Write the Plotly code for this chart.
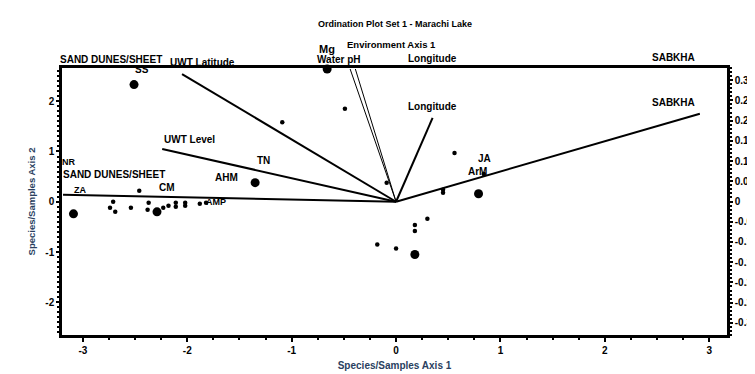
import plotly.graph_objects as go

# Environment vectors (end points, axis-1 / axis-2 scale)
vec_names = ["SABKHA", "Longitude", "UWT Latitude", "Mg", "Water pH", "UWT Level", "SAND DUNES/SHEET"]
vec_x = [2.91, 0.35, -2.05, -0.44, -0.39, -2.24, -3.19]
vec_y = [1.75, 1.67, 2.54, 2.64, 2.64, 1.05, 0.14]

# Sample / species scores
big_x = [-2.51, -0.66, -1.35, -3.09, 0.79, 0.18, -2.29]
big_y = [2.33, 2.64, 0.38, -0.24, 0.16, -1.05, -0.20]
small_x = [-1.09, -0.49, -0.09, -2.46, -2.71, -2.74, -2.69, -2.54, -2.37, -2.38, -2.23, -2.18,
           -2.11, -2.11, -2.02, -2.02, -1.88, -1.82, 0.56, 0.84, 0.45, 0.45, 0.30, 0.18, 0.18,
           -0.18, 0.00]
small_y = [1.58, 1.85, 0.38, 0.22, 0.00, -0.12, -0.20, -0.12, -0.02, -0.16, -0.12, -0.08,
           -0.02, -0.10, -0.02, -0.08, -0.04, -0.02, 0.97, 0.55, 0.24, 0.18, -0.34, -0.46, -0.58,
           -0.85, -0.93]

# Text labels
lab_text = ["SAND DUNES/SHEET", "UWT Latitude", "SS", "Mg", "Water pH", "Longitude", "SABKHA",
            "Longitude", "SABKHA", "UWT Level", "TN", "AHM", "CM", "NR", "SAND DUNES/SHEET", "ZA",
            "JA", "ArM", "AMP", "Environment Axis 1"]
lab_x = [-3.24, -2.18, -2.52, -0.66, -0.55, 0.35, 2.88, 0.35, 2.88, -2.24, -1.35, -1.75, -2.29,
         -3.22, -3.21, -3.10, 0.85, 0.78, -1.84, -0.04]
lab_y = [2.98, 2.92, 2.78, 3.20, 2.98, 3.00, 3.02, 2.05, 2.13, 1.39, 0.82, 0.48, 0.28, 0.80,
         0.54, 0.24, 1.01, 0.60, 0.00, 3.28]

x_ticks = [-3, -2, -1, 0, 1, 2, 3]
y_ticks = [-2, -1, 0, 1, 2]
y2_ticks = [0.3, 0.25, 0.2, 0.15, 0.1, 0.05, 0, -0.05, -0.1, -0.15, -0.2, -0.25, -0.3]

XR = [-3.2, 3.17]
YR = [-2.65, 2.66]
FONT = "Liberation Sans"

fig = go.Figure()
for nm, vx, vy in zip(vec_names, vec_x, vec_y):
    w = 1.0 if nm in ("Mg", "Water pH") else 2.0
    fig.add_trace(go.Scatter(x=[0, vx], y=[0, vy], mode="lines",
                             line=dict(color="black", width=w), showlegend=False, hoverinfo="skip"))
fig.add_trace(go.Scatter(x=big_x, y=big_y, mode="markers", cliponaxis=False,
                         marker=dict(color="black", size=9), showlegend=False))
fig.add_trace(go.Scatter(x=small_x, y=small_y, mode="markers", cliponaxis=False,
                         marker=dict(color="black", size=4.5), showlegend=False))
fig.add_trace(go.Scatter(x=[0], y=[0], yaxis="y2", mode="markers", marker=dict(opacity=0),
                         showlegend=False, hoverinfo="skip"))

for t, lx, ly in zip(lab_text, lab_x, lab_y):
    sz = 11 if t == "Mg" else (9.5 if t == "Environment Axis 1" else 10)
    if t in ("AMP", "ZA", "NR"):
        sz = 9
    fig.add_annotation(x=(lx - XR[0]) / (XR[1] - XR[0]), xref="paper",
                       y=(ly - YR[0]) / (YR[1] - YR[0]), yref="paper",
                       text="<b>" + t + "</b>", showarrow=False,
                       font=dict(family=FONT, size=sz, color="black"))

fig.add_annotation(x=0.5, xref="paper", y=1 + (68 - 17) / 267.0, yref="paper",
                   text="<b>Ordination Plot Set 1 - Marachi Lake</b>",
                   showarrow=False, font=dict(family=FONT, size=9, color="black"))

axfont = dict(family=FONT, size=10, color="black")
fig.update_layout(
    width=747, height=366,
    margin=dict(l=54, r=28, t=60, b=39, autoexpand=False),
    plot_bgcolor="white", paper_bgcolor="white",
    xaxis=dict(range=XR, tickvals=x_ticks, ticktext=["<b>%d</b>" % v for v in x_ticks],
               automargin=False,
               showgrid=False, zeroline=False, showline=True, linecolor="black", linewidth=2.5,
               mirror=True, ticks="outside", ticklen=4, tickwidth=1.5, tickcolor="black",
               minor=dict(ticks="outside", ticklen=2, dtick=0.25, tickcolor="black"),
               tickfont=axfont,
               title=dict(text="<b>Species/Samples Axis 1</b>", font=dict(family=FONT, size=10), standoff=8)),
    yaxis=dict(range=YR, tickvals=y_ticks, ticktext=["<b>%d</b>" % v for v in y_ticks],
               automargin=False,
               showgrid=False, zeroline=False, showline=True, linecolor="black", linewidth=2.5,
               ticks="outside", ticklen=3, tickwidth=1.5, tickcolor="black",
               minor=dict(ticks="outside", ticklen=2, dtick=0.1, tickcolor="black"),
               tickfont=axfont,
               title=dict(text="<b>Species/Samples Axis 2</b>", font=dict(family=FONT, size=9.5), standoff=9)),
    yaxis2=dict(range=[-0.33, 0.33], overlaying="y", side="right", tickvals=y2_ticks,
                automargin=False,
                ticktext=["<b>%s</b>" % ("%g" % v) for v in y2_ticks],
                showgrid=False, zeroline=False, showline=True, linecolor="black", linewidth=2.5,
                ticks="outside", ticklen=3, tickwidth=1.5, tickcolor="black",
                minor=dict(ticks="outside", ticklen=2, dtick=0.01, tickcolor="black"),
                tickfont=axfont),
)
fig.write_html("out.html")
